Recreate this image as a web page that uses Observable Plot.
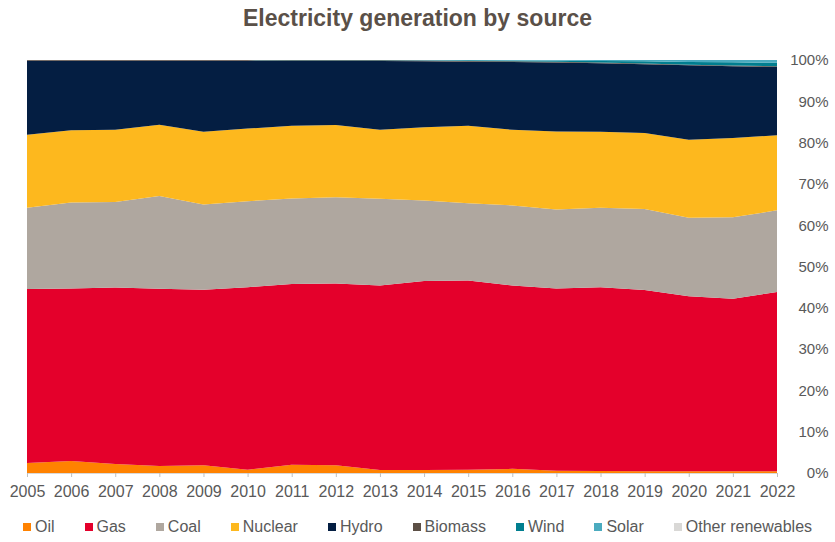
<!DOCTYPE html>
<html>
<head>
<meta charset="utf-8">
<script src="https://cdn.jsdelivr.net/npm/d3@7"></script>
<script src="https://cdn.jsdelivr.net/npm/@observablehq/plot@0.6"></script>
<style>
  html, body { margin: 0; padding: 0; background: #fff; }
  body { width: 835px; height: 542px; overflow: hidden; font-family: "Liberation Sans", Arial, sans-serif; }
  #title { height: 40px; line-height: 37px; text-align: center; font-size: 23px; font-weight: bold; color: #5a5048; }
  #chart svg { display: block; }
  #legend { display: flex; justify-content: center; align-items: center; gap: 30px; height: 34px; font-size: 16px; color: #595959; }
  #legend .item { display: flex; align-items: center; gap: 4px; }
  #legend .sw { width: 8px; height: 8px; display: inline-block; }
</style>
</head>
<body>
<div id="title">Electricity generation by source</div>
<div id="chart"></div>
<div id="legend"></div>
<script>
const years = [2005,2006,2007,2008,2009,2010,2011,2012,2013,2014,2015,2016,2017,2018,2019,2020,2021,2022];
const sources = ["Oil","Gas","Coal","Nuclear","Hydro","Biomass","Wind","Solar","Other renewables"];
const colors = ["#ff8200","#e4002b","#afa79f","#fdb81e","#041e42","#5c4f45","#007e8f","#4babbf","#d9d8d6"];

const oil     = [2.4, 2.9, 2.2, 1.7, 1.9, 0.8, 2.0, 1.9, 0.7, 0.7, 0.8, 1.0, 0.55, 0.5, 0.45, 0.45, 0.45, 0.45];
const gas     = [42.15, 41.8, 42.7, 42.9, 42.5, 44.2, 43.8, 44.0, 44.7, 45.8, 45.8, 44.4, 44.15, 44.5, 43.85, 42.35, 41.75, 43.35];
const coal    = [19.65, 20.8, 20.7, 22.5, 20.6, 20.8, 20.7, 20.9, 21.0, 19.5, 18.7, 19.4, 19.1, 19.2, 19.6, 19.0, 19.7, 19.8];
const nuclear = [17.7, 17.5, 17.5, 17.2, 17.6, 17.6, 17.6, 17.5, 16.7, 17.7, 18.8, 18.3, 18.9, 18.4, 18.4, 18.9, 19.2, 18.2];
const hydro   = [17.9, 16.8, 16.7, 15.5, 17.2, 16.4, 15.7, 15.5, 16.65, 16.0, 15.5, 16.4, 16.7, 16.6, 16.7, 18.0, 17.4, 16.5];
const biomass = [0.18, 0.18, 0.18, 0.18, 0.18, 0.18, 0.18, 0.18, 0.18, 0.18, 0.18, 0.18, 0.18, 0.18, 0.18, 0.18, 0.18, 0.18];
const wind    = [0, 0, 0, 0, 0, 0.01, 0.02, 0.03, 0.05, 0.08, 0.14, 0.2, 0.25, 0.35, 0.5, 0.65, 0.75, 0.85];
const solar   = [0, 0, 0, 0, 0, 0, 0, 0, 0.01, 0.02, 0.06, 0.1, 0.15, 0.25, 0.3, 0.45, 0.55, 0.65];
const other   = [0.02, 0.02, 0.02, 0.02, 0.02, 0.02, 0.02, 0.02, 0.02, 0.02, 0.02, 0.02, 0.02, 0.02, 0.02, 0.02, 0.02, 0.02];
const yTicks  = [0, 0.1, 0.2, 0.3, 0.4, 0.5, 0.6, 0.7, 0.8, 0.9, 1];

const series = [oil, gas, coal, nuclear, hydro, biomass, wind, solar, other];
const data = [];
sources.forEach((s, i) => years.forEach((yr, j) => data.push({source: s, year: yr, value: series[i][j]})));

const chart = Plot.plot({
  width: 835,
  height: 470,
  marginTop: 20,
  marginBottom: 37,
  marginLeft: 27,
  marginRight: 58,
  style: {fontFamily: '"Liberation Sans", Arial, sans-serif', fontSize: "15px", color: "#595959", background: "#fff"},
  x: {type: "linear", domain: [2005, 2022]},
  y: {domain: [0, 1]},
  color: {domain: sources, range: colors},
  marks: [
    Plot.areaY(data, {x: "year", y: "value", fill: "source", order: sources, offset: "normalize", curve: "linear"}),
    Plot.ruleY([0], {stroke: "#d9d9d9"}),
    Plot.axisX({ticks: years, tickFormat: d3.format("d"), tickSize: 4, tickPadding: 8, stroke: "#bfbfbf", fill: "#595959", fontSize: 16, label: null}),
    Plot.axisY({anchor: "right", ticks: yTicks, tickFormat: d3.format(".0%"), tickSize: 0, textAnchor: "end", dx: 42, fill: "#595959", fontSize: 15, label: null})
  ]
});
document.getElementById("chart").appendChild(chart);

const legend = document.getElementById("legend");
sources.forEach((s, i) => {
  const it = document.createElement("div");
  it.className = "item";
  const sw = document.createElement("span");
  sw.className = "sw";
  sw.style.background = colors[i];
  const tx = document.createElement("span");
  tx.textContent = s;
  it.appendChild(sw); it.appendChild(tx);
  legend.appendChild(it);
});
</script>
</body>
</html>
